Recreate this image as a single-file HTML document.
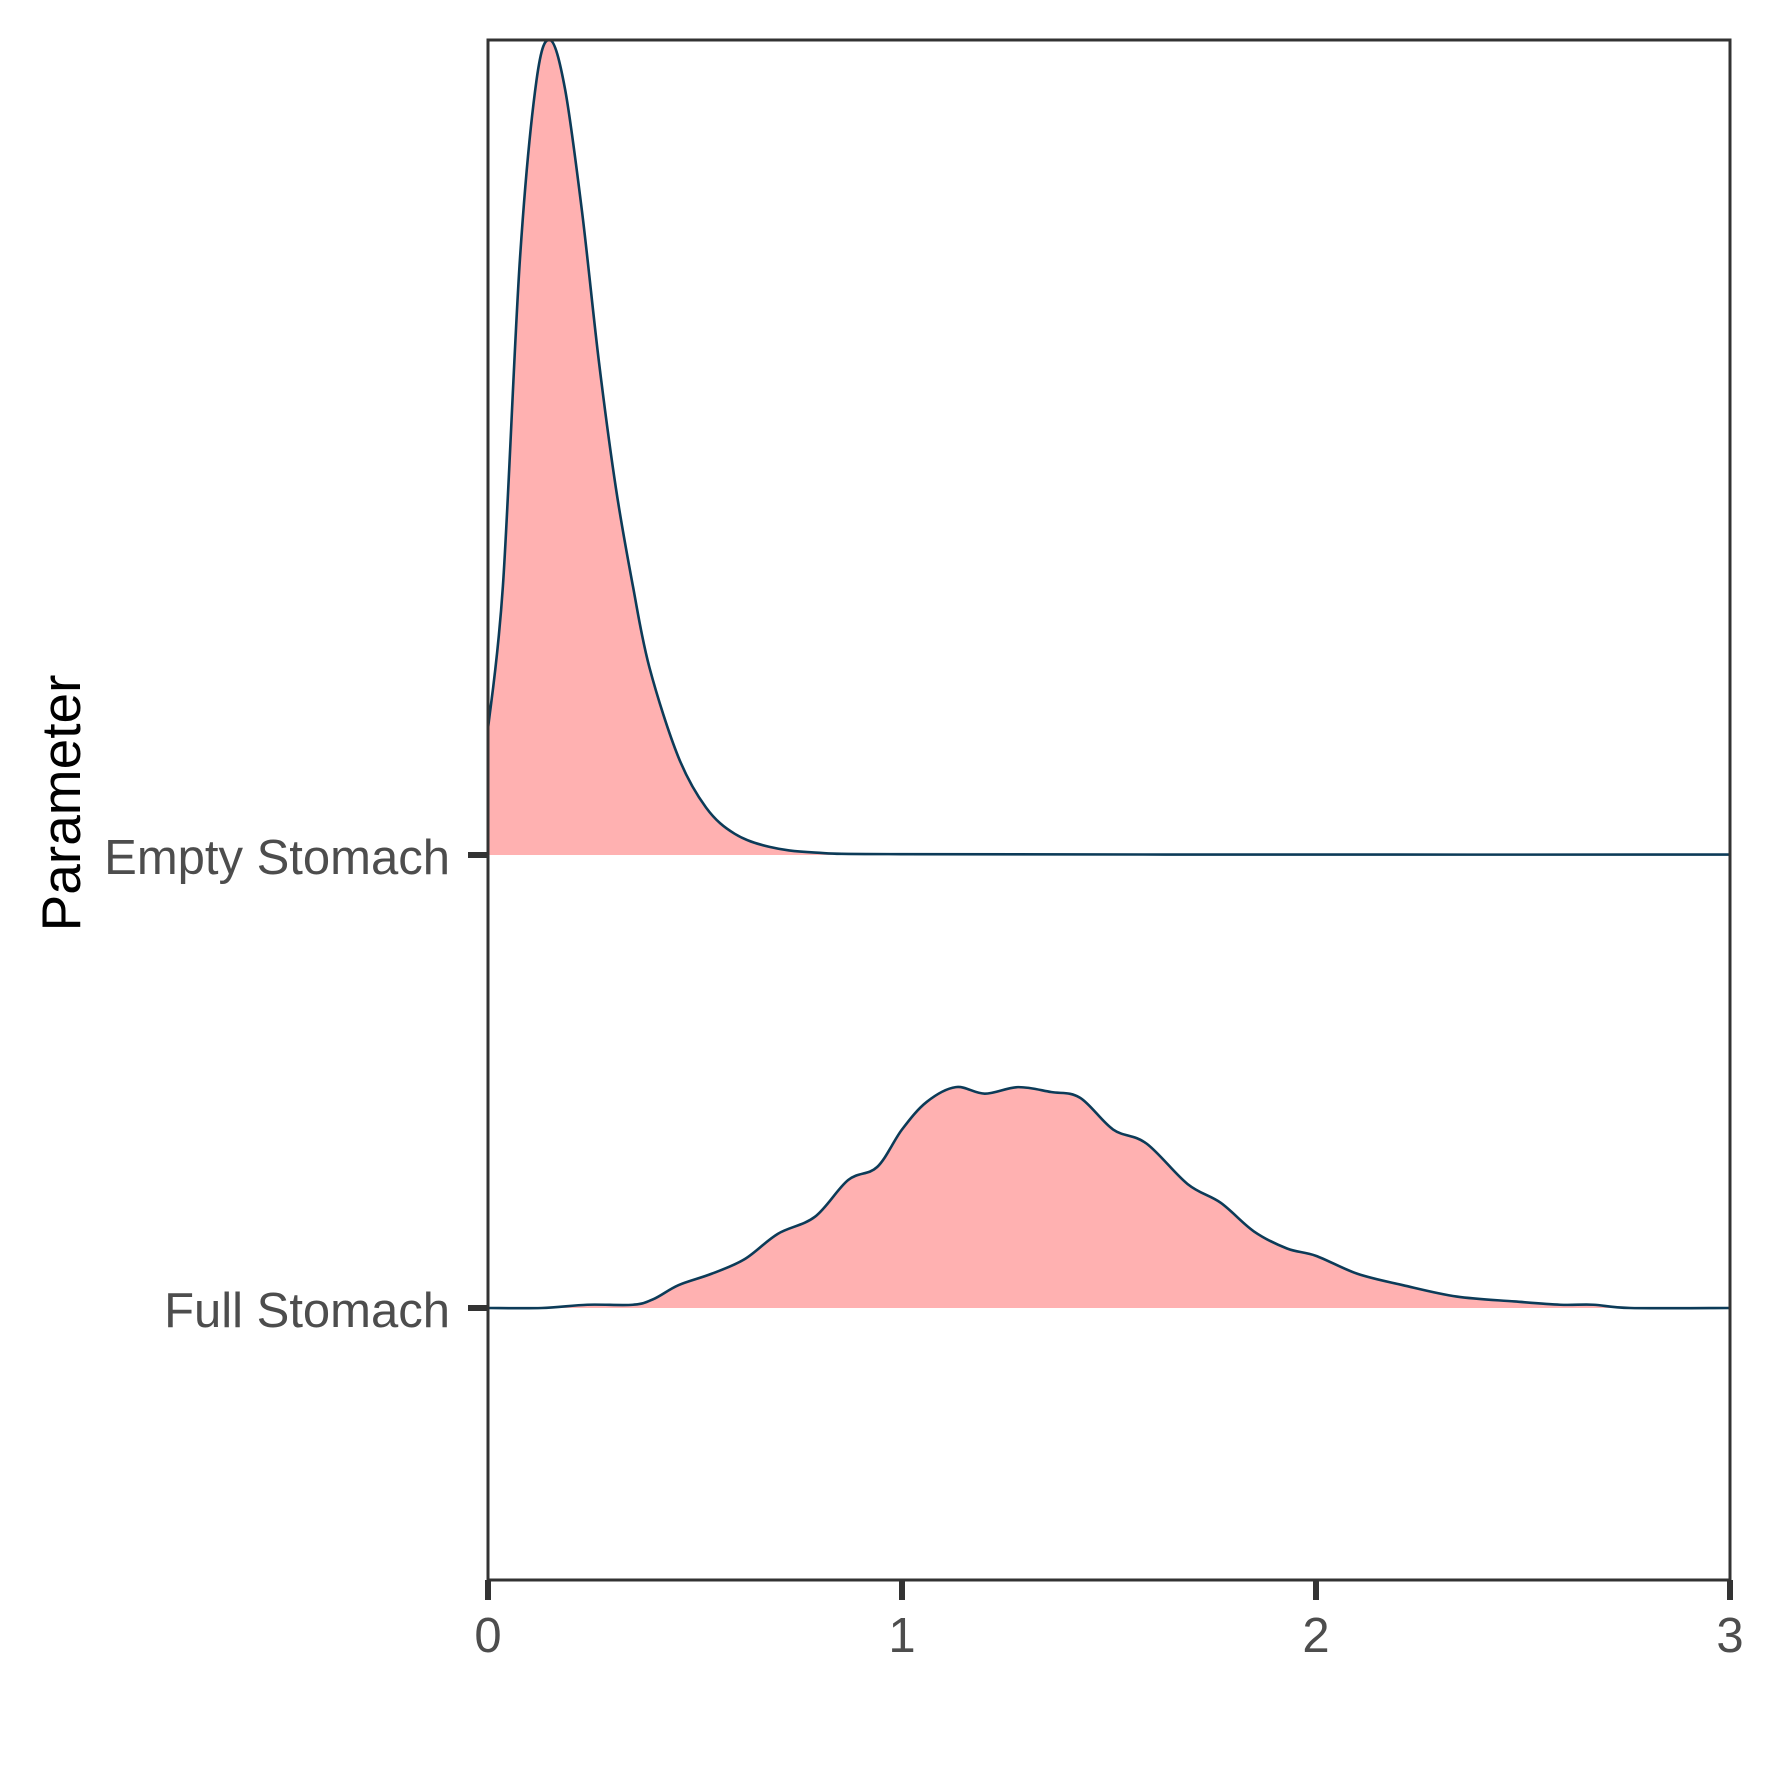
<!DOCTYPE html>
<html><head><meta charset="utf-8"><style>
html,body{margin:0;padding:0;background:#fff;}
svg{display:block;}
text{font-family:"Liberation Sans",Arial,sans-serif;}
</style></head><body>
<svg id="chart" width="1771" height="1771" viewBox="0 0 1771 1771" xmlns="http://www.w3.org/2000/svg">
<g id="ridges"></g>
<rect x="488" y="40" width="1242" height="1540" fill="none" stroke="#333" stroke-width="3"/>
<g id="axes"></g>
<text transform="translate(80,803) rotate(-90)" text-anchor="middle" font-size="55" fill="#000">Parameter</text>
</svg>
<script>
const categories = ["Empty Stomach", "Full Stomach"];
const emptyX = [0,0.036,0.077,0.117,0.15,0.186,0.227,0.268,0.309,0.35,0.39,0.46,0.527,0.596,0.68,0.79,1.0,2.0,3.0];
const emptyY = [0.155,0.33,0.73,0.95,1.0,0.94,0.79,0.605,0.45,0.33,0.23,0.12,0.058,0.026,0.01,0.003,0.001,0.0005,0.0005];
const fullX = [0,0.13,0.24,0.35,0.40,0.46,0.54,0.62,0.70,0.79,0.87,0.94,1.0,1.06,1.13,1.2,1.28,1.36,1.43,1.51,1.59,1.69,1.77,1.85,1.93,2.0,2.1,2.21,2.34,2.48,2.59,2.67,2.76,3.0];
const fullY = [0,0,0.004,0.004,0.011,0.028,0.042,0.06,0.091,0.112,0.157,0.173,0.219,0.253,0.271,0.263,0.271,0.265,0.258,0.219,0.202,0.152,0.129,0.094,0.073,0.064,0.042,0.028,0.014,0.008,0.004,0.004,0,0];
const xTicks = [0,1,2,3];

const NS = "http://www.w3.org/2000/svg";
const X0 = 488, X1 = 1730;
function xs(v){ return X0 + v/3*(X1-X0); }
const baselines = [855, 1308];
const unit = 815;
function ys(v, i){ return baselines[i] - v*unit; }

function smoothPath(pts){
  let d = "M" + pts[0][0] + "," + pts[0][1];
  for (let i=0;i<pts.length-1;i++){
    const p0=pts[Math.max(0,i-1)], p1=pts[i], p2=pts[i+1], p3=pts[Math.min(pts.length-1,i+2)];
    const c1x=p1[0]+(p2[0]-p0[0])/6, c1y=p1[1]+(p2[1]-p0[1])/6;
    const c2x=p2[0]-(p3[0]-p1[0])/6, c2y=p2[1]-(p3[1]-p1[1])/6;
    d += " C"+c1x+","+c1y+" "+c2x+","+c2y+" "+p2[0]+","+p2[1];
  }
  return d;
}
const ridges = document.getElementById("ridges");
const series = [[emptyX, emptyY],[fullX, fullY]];
series.forEach((s,i)=>{
  const pts = s[0].map((x,k)=>[xs(x), ys(s[1][k], i)]);
  const line = smoothPath(pts);
  const fill = document.createElementNS(NS,"path");
  
  
  fill.setAttribute("d", line + " L"+xs(3)+","+baselines[i]+" L"+xs(0)+","+baselines[i]+" Z");
  fill.setAttribute("fill","#ffb1b1");
  ridges.appendChild(fill);
  const ln = document.createElementNS(NS,"path");
  
  
  ln.setAttribute("d", line);
  ln.setAttribute("fill","none");
  ln.setAttribute("stroke","#0c3b58");
  ln.setAttribute("stroke-width","2.6");
  ridges.appendChild(ln);
});
const axes = document.getElementById("axes");
xTicks.forEach(t=>{
  const l = document.createElementNS(NS,"line");
  
  
  l.setAttribute("x1",xs(t)); l.setAttribute("x2",xs(t));
  l.setAttribute("y1",1580); l.setAttribute("y2",1600);
  l.setAttribute("stroke","#333"); l.setAttribute("stroke-width","6");
  axes.appendChild(l);
  const tx = document.createElementNS(NS,"text");
  
  
  tx.setAttribute("x",xs(t)); tx.setAttribute("y",1652);
  tx.setAttribute("text-anchor","middle"); tx.setAttribute("font-size","49");
  tx.setAttribute("fill","#4d4d4d");
  tx.textContent = t;
  axes.appendChild(tx);
});
categories.forEach((c,i)=>{
  const l = document.createElementNS(NS,"line");
  
  
  l.setAttribute("x1",468); l.setAttribute("x2",488);
  l.setAttribute("y1",baselines[i]); l.setAttribute("y2",baselines[i]);
  l.setAttribute("stroke","#333"); l.setAttribute("stroke-width","6");
  axes.appendChild(l);
  const tx = document.createElementNS(NS,"text");
  
  
  tx.setAttribute("x",450); tx.setAttribute("y",baselines[i]+19);
  tx.setAttribute("text-anchor","end"); tx.setAttribute("font-size","49");
  tx.setAttribute("fill","#4d4d4d");
  tx.textContent = c;
  axes.appendChild(tx);
});
</script>
</body></html>
